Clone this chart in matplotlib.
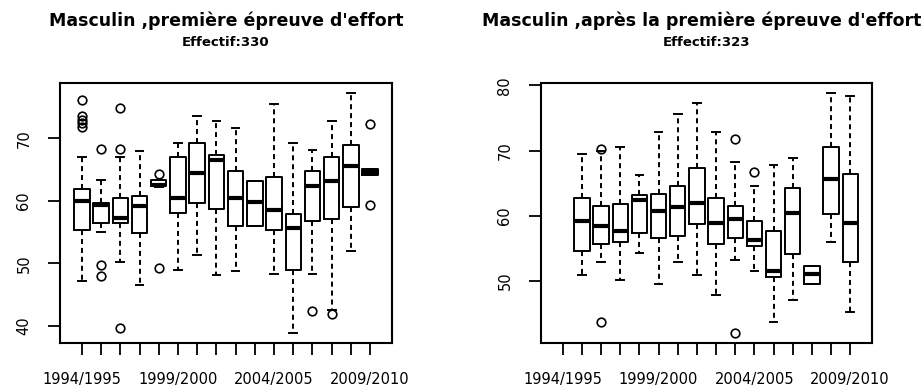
import matplotlib
matplotlib.use("Agg")
import matplotlib.pyplot as plt

seasons = [f"{y}/{y + 1}" for y in range(1994, 2010)]
shown_labels = ["1994/1995", "1999/2000", "2004/2005", "2009/2010"]

# Left panel: first effort test (n = 330)
left_title = "Masculin ,première épreuve d'effort"
left_sub = "Effectif:330"
left_whislo = [47.1, 55.0, 50.2, 46.5, 62.2, 48.9, 51.3, 48.1, 48.7, 56.0, 48.3, 38.8, 48.3, 42.6, 52.0, 64.1]
left_q1 = [55.4, 56.4, 56.4, 54.8, 62.4, 58.0, 59.6, 58.7, 56.0, 56.0, 55.4, 48.9, 56.7, 57.1, 59.0, 64.1]
left_med = [59.9, 59.4, 57.2, 59.1, 62.6, 60.4, 64.4, 66.5, 60.4, 59.8, 58.5, 55.6, 62.3, 63.1, 65.6, 64.6]
left_q3 = [61.9, 59.6, 60.5, 60.8, 63.4, 67.0, 69.3, 67.3, 64.8, 63.1, 63.8, 57.9, 64.7, 67.0, 69.0, 65.1]
left_whishi = [67.0, 63.4, 67.0, 68.0, 63.4, 69.3, 73.6, 72.7, 71.7, 63.1, 75.5, 69.3, 68.2, 72.7, 77.3, 65.1]
left_fliers = [
    [76.2, 73.6, 73.0, 72.4, 71.8],
    [68.3, 49.7, 47.9],
    [74.9, 68.3, 39.6],
    [],
    [64.3, 49.3],
    [], [], [], [], [], [], [],
    [42.3],
    [41.9],
    [],
    [72.3, 59.3],
]

# Right panel: after the first effort test (n = 323), no 1994/1995 group
right_title = "Masculin ,après la première épreuve d'effort"
right_sub = "Effectif:323"
right_groups = seasons[1:]
right_whislo = [50.9, 52.9, 50.1, 54.2, 49.5, 52.9, 50.8, 47.8, 53.2, 51.5, 43.7, 47.1, 49.5, 55.9, 45.2]
right_q1 = [54.6, 55.7, 55.9, 57.4, 56.6, 56.9, 58.7, 55.7, 56.5, 55.3, 50.5, 54.1, 49.5, 60.3, 52.8]
right_med = [59.1, 58.4, 57.6, 62.4, 60.7, 61.3, 61.9, 58.9, 59.5, 56.3, 51.5, 60.4, 51.1, 65.7, 58.9]
right_q3 = [62.7, 61.4, 61.8, 63.1, 63.3, 64.5, 67.3, 62.7, 61.4, 59.2, 57.7, 64.2, 52.3, 70.6, 66.4]
right_whishi = [69.4, 69.9, 70.6, 66.3, 72.8, 75.6, 77.3, 72.8, 68.2, 64.5, 67.8, 68.9, 52.3, 78.9, 78.4]
right_fliers = [
    [], [70.2, 43.6], [], [], [], [], [], [],
    [71.7, 41.9],
    [66.7],
    [], [], [], [], [],
]

W, H = 924, 390
fig = plt.figure(figsize=(W / 100, H / 100), dpi=100)
fig.patch.set_facecolor("white")

LW = 1.4
box_kw = dict(
    widths=0.8,
    patch_artist=False,
    showfliers=True,
    boxprops=dict(color="black", linewidth=LW),
    medianprops=dict(color="black", linewidth=3.0, solid_capstyle="butt"),
    whiskerprops=dict(color="black", linewidth=LW, linestyle=(0, (2.6, 2.0))),
    capprops=dict(color="black", linewidth=LW),
    flierprops=dict(marker="o", markersize=6.2, markerfacecolor="none",
                    markeredgecolor="black", markeredgewidth=1.2, linestyle="none"),
)


def build_stats(groups, lo, q1, med, q3, hi, fl):
    return [dict(label=g, whislo=a, q1=b, med=c, q3=d, whishi=e, fliers=f)
            for g, a, b, c, d, e, f in zip(groups, lo, q1, med, q3, hi, fl)]


def panel(rect, groups, stats, yticks, title, sub, title_x=None):
    ax = fig.add_axes(rect)
    pos = [seasons.index(g) + 1 for g in groups]
    ax.bxp(stats, positions=pos, **box_kw)
    # y range as in R: data range padded by 4 %
    vals = []
    for s in stats:
        vals += [s["whislo"], s["whishi"]] + list(s["fliers"])
    lo, hi = min(vals), max(vals)
    pad = 0.04 * (hi - lo)
    ax.set_ylim(lo - pad, hi + pad)
    n = len(seasons)
    ax.set_xlim(0.5 - 0.04 * n, n + 0.5 + 0.04 * n)
    ax.set_xticks(range(1, n + 1))
    ax.set_xticklabels([s if s in shown_labels else "" for s in seasons])
    ax.set_yticks(yticks)
    ax.set_yticklabels([str(t) for t in yticks], rotation=90, va="center")
    ax.tick_params(axis="both", direction="out", length=8.6, width=1.3,
                   labelsize=10.5, pad=12, color="black")
    for sp in ax.spines.values():
        sp.set_linewidth(1.5)
        sp.set_color("black")
    cx = rect[0] + rect[2] / 2
    fig.text(cx if title_x is None else title_x, 1 - 21 / H, title,
             ha="center", va="center",
             fontsize=12.5, fontweight="bold", family="DejaVu Sans")
    fig.text(cx, 1 - 42 / H, sub, ha="center", va="center",
             fontsize=9.5, fontweight="bold", family="DejaVu Sans")
    return ax


left_rect = [60 / W, (H - 343) / H, 332 / W, 260 / H]
right_rect = [541 / W, (H - 343) / H, 331 / W, 260 / H]

panel(left_rect, seasons,
      build_stats(seasons, left_whislo, left_q1, left_med, left_q3, left_whishi, left_fliers),
      [40, 50, 60, 70], left_title, left_sub)
panel(right_rect, right_groups,
      build_stats(right_groups, right_whislo, right_q1, right_med, right_q3, right_whishi, right_fliers),
      [50, 60, 70, 80], right_title, right_sub, title_x=702 / W)

fig.savefig("out.png", dpi=100, facecolor="white")
